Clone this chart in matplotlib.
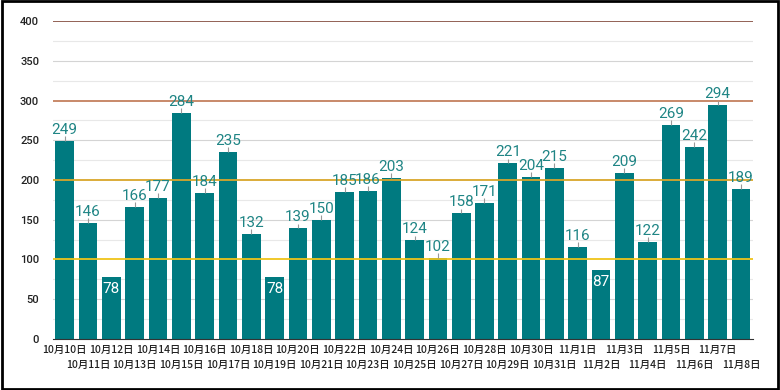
import matplotlib.pyplot as plt
from matplotlib.patches import Rectangle

# ============================= DATA =============================
dates = ["10月10日", "10月11日", "10月12日", "10月13日", "10月14日", "10月15日",
         "10月16日", "10月17日", "10月18日", "10月19日", "10月20日", "10月21日",
         "10月22日", "10月23日", "10月24日", "10月25日", "10月26日", "10月27日",
         "10月28日", "10月29日", "10月30日", "10月31日", "11月1日", "11月2日",
         "11月3日", "11月4日", "11月5日", "11月6日", "11月7日", "11月8日"]
counts = [249, 146, 78, 166, 177, 284, 184, 235, 132, 78, 139, 150, 185, 186, 203,
          124, 102, 158, 171, 221, 204, 215, 116, 87, 209, 122, 269, 242, 294, 189]
y_ticks = [0, 50, 100, 150, 200, 250, 300, 350, 400]

# ============================= PLOT =============================
bar_color = "#007a80"
label_color = "#1f8585"
cjk = ["Noto Sans CJK JP", "DejaVu Sans"]

fig = plt.figure(figsize=(7.8, 3.9), dpi=100)
ax = fig.add_axes([0.068, 0.131, 0.897, 0.815])

xs = list(range(len(counts)))
ax.bar(xs, counts, width=0.8, color=bar_color, zorder=3)

# light grid every 25, grey every 50, coloured every 100
for v in range(25, 400, 25):
    if v % 100 == 0:
        continue
    ax.axhline(v, color="#e8e8e8" if v % 50 else "#d4d4d4", lw=0.8, zorder=1)
hundred_colors = {100: "#f0c419", 200: "#d9a62a", 300: "#c4805e", 400: "#8a5548"}
for v, c in hundred_colors.items():
    ax.axhline(v, color=c, lw=1.3, zorder=4)

for x, v in zip(xs, counts):
    if v < 100:
        ax.text(x, v - 6, str(v), ha="center", va="top", color="white",
                fontsize=11, family="Roboto", zorder=5)
    else:
        ax.vlines(x, v, v + 6, color="#999999", lw=0.8, zorder=5)
        ax.text(x, v + 5, str(v), ha="center", va="bottom", color=label_color,
                fontsize=11, family="Roboto", zorder=5)

ax.set_xlim(-0.5, len(counts) - 0.5)
ax.set_ylim(0, 400)
ax.set_yticks(y_ticks)
ax.set_yticklabels([str(t) for t in y_ticks], fontsize=8, family="Roboto",
                   color="#222222", fontweight="medium")

# dates alternate on two rows: even ones as major ticks, odd ones as minor ticks
ax.set_xticks(xs[0::2])
ax.set_xticklabels(dates[0::2], fontsize=7.5, family=cjk, color="#222222", fontweight="medium")
ax.set_xticks(xs[1::2], minor=True)
ax.set_xticklabels(dates[1::2], minor=True, fontsize=7.5, family=cjk, color="#222222",
                   fontweight="medium")
ax.tick_params(axis="both", which="both", length=0)
ax.tick_params(axis="y", pad=10)
ax.tick_params(axis="x", which="major", pad=4)
ax.tick_params(axis="x", which="minor", pad=15)
for s in ["top", "right", "left"]:
    ax.spines[s].set_visible(False)
ax.spines["bottom"].set_color("#333333")
ax.spines["bottom"].set_zorder(6)

# black frame around the picture
fig.patches.append(Rectangle((0.002, 0.003), 0.996, 0.994, transform=fig.transFigure,
                             fill=False, edgecolor="black", lw=2))

fig.savefig("out.png", dpi=100)
